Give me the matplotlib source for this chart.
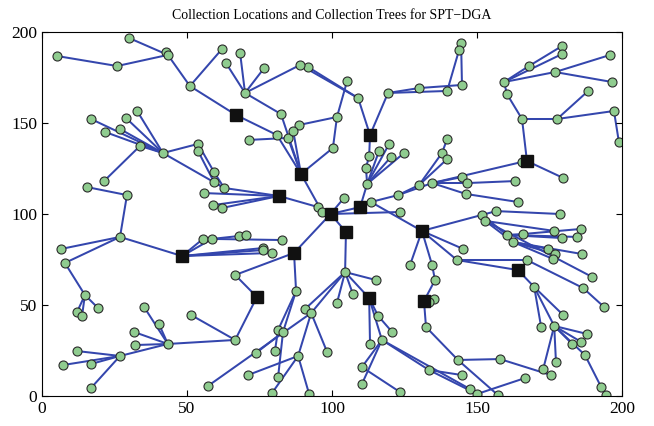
import matplotlib.pyplot as plt

# collection locations (black squares)
sinks = {
    "K1": (66.9, 154.4), "K2": (113.1, 143.4), "K3": (89.3, 122.0),
    "K4": (81.7, 109.9), "K5": (99.5, 100.0), "K6": (109.7, 103.8),
    "K7": (104.8, 90.1), "K8": (131.0, 90.7), "K9": (167.2, 129.1),
    "K10": (48.3, 76.9), "K11": (86.9, 78.6), "K12": (74.1, 54.4),
    "K13": (112.8, 53.8), "K14": (131.7, 52.2), "K15": (164.1, 69.2),
}

# sensor nodes
sensors = {
    "a1": (30.0, 196.7), "a2": (42.8, 189.0), "a3": (43.4, 187.4), "a4": (5.2, 186.8),
    "a5": (25.9, 181.3), "a6": (51.0, 170.3), "a7": (62.1, 190.7),
    "b1": (16.9, 152.2), "b2": (29.0, 152.7), "b3": (32.8, 156.6), "b4": (21.7, 145.1),
    "b5": (26.9, 146.7), "b6": (33.8, 137.4), "b7": (41.7, 133.5), "b8": (21.4, 118.1),
    "b9": (15.5, 114.8), "b10": (29.3, 110.4), "b11": (26.9, 87.4), "b12": (6.6, 80.8),
    "b13": (7.9, 73.1), "b14": (14.8, 55.5), "b15": (12.1, 46.2), "b16": (13.8, 44.0),
    "b17": (19.3, 48.4),
    "c1": (35.2, 48.9), "c2": (40.3, 39.6), "c3": (31.7, 35.2), "c4": (32.1, 28.0),
    "c5": (43.4, 28.6), "c6": (26.9, 22.0), "c7": (12.1, 24.7), "c8": (7.2, 17.0),
    "c9": (16.9, 17.6), "c10": (16.9, 4.4),
    "d1": (66.6, 66.5), "d2": (51.4, 44.5), "d4": (66.6, 30.8), "d5": (57.2, 5.5),
    "d6": (87.6, 57.7), "d7": (90.7, 47.8), "d8": (92.8, 45.6), "d9": (81.4, 36.3),
    "d10": (83.1, 35.2), "d11": (80.3, 24.7), "d12": (73.8, 23.6), "d13": (88.3, 22.0),
    "d14": (98.3, 24.2), "d15": (71.0, 11.5), "d16": (81.4, 10.4), "d17": (79.3, 1.6),
    "d18": (92.1, 1.1),
    "e1": (104.5, 68.1), "e2": (115.2, 63.7), "e3": (107.2, 56.0), "e4": (101.7, 51.1),
    "e5": (115.9, 44.0), "e6": (120.7, 35.2), "e7": (113.1, 28.6), "e8": (117.2, 30.8),
    "e9": (110.3, 15.9), "e10": (110.3, 6.6), "e11": (123.4, 2.2), "e12": (147.6, 3.8),
    "f1": (132.4, 37.9), "f2": (143.4, 19.8), "f3": (133.4, 14.3), "f4": (144.8, 11.5),
    "f5": (150.0, 1.1), "f6": (157.9, 20.3), "f7": (157.2, 0.5), "f8": (166.6, 9.9),
    "f9": (175.5, 11.5),
    "g1": (135.5, 63.7), "g2": (134.5, 72.0), "g3": (135.2, 53.3), "g4": (133.4, 51.6),
    "h1": (113.4, 106.6), "h2": (122.8, 110.4), "h3": (130.0, 115.9), "h4": (134.5, 117.0),
    "h5": (137.9, 133.5), "h6": (139.7, 141.2), "h7": (139.7, 130.2), "h8": (144.8, 120.3),
    "h9": (146.6, 117.0), "h10": (146.2, 111.0), "h11": (165.5, 128.6), "h12": (163.1, 118.1),
    "h13": (164.1, 106.6), "h14": (123.4, 101.1), "h15": (145.2, 80.8), "h16": (143.1, 74.7),
    "h17": (126.9, 72.0),
    "i1": (151.7, 99.5), "i2": (152.8, 96.2), "i3": (156.6, 101.6), "i4": (178.6, 100.0),
    "i5": (176.6, 90.7), "i6": (185.9, 91.8), "i7": (160.3, 88.5), "i8": (165.9, 89.0),
    "i9": (162.4, 84.6), "i10": (179.3, 86.8), "i11": (184.5, 87.4), "i12": (174.5, 80.8),
    "i13": (176.9, 78.0), "i14": (176.2, 75.3), "i15": (186.2, 78.0), "i16": (167.2, 74.7),
    "i17": (189.7, 65.4), "j1": (179.7, 119.8),
    "k1": (169.7, 59.9), "k2": (179.7, 44.5), "k3": (172.1, 37.9), "k4": (176.6, 38.5),
    "k5": (187.9, 34.1), "k6": (185.9, 29.7), "k7": (182.8, 28.6), "k8": (187.2, 22.5),
    "k9": (192.8, 4.9), "k10": (194.5, 0.5), "k11": (177.2, 18.7), "k12": (172.8, 14.8),
    "k13": (186.6, 59.3), "k14": (193.8, 48.9),
    "m1": (165.5, 152.2), "m2": (160.3, 165.9), "m3": (159.3, 172.5), "m4": (167.9, 181.3),
    "m5": (179.3, 192.3), "m6": (179.3, 187.9), "m7": (176.9, 178.0), "m8": (195.9, 187.4),
    "m9": (196.6, 172.5), "m10": (177.6, 152.2), "m11": (188.3, 167.6), "m12": (197.2, 156.6),
    "m13": (198.9, 139.6),
    "n1": (119.3, 166.5), "n2": (130.0, 169.2), "n3": (144.8, 170.9), "n4": (144.5, 194.0),
    "n5": (139.7, 167.6), "n6": (143.8, 190.1), "n7": (109.0, 163.7), "n8": (91.7, 180.8),
    "n9": (89.0, 181.9), "n10": (105.2, 173.1), "n11": (101.7, 153.3), "n12": (100.3, 136.3),
    "n13": (88.6, 148.9),
    "p1": (70.0, 166.5), "p2": (68.3, 188.5), "p3": (63.4, 183.0), "p4": (76.6, 180.2),
    "p5": (82.4, 154.9), "p6": (81.0, 143.4), "p7": (84.8, 141.8), "p8": (86.6, 145.6),
    "p9": (71.4, 140.7),
    "q1": (53.8, 138.5), "q2": (53.8, 134.6), "q3": (59.3, 123.1), "q4": (59.3, 117.6),
    "q5": (62.8, 114.3), "q6": (55.9, 111.5), "q7": (59.0, 104.9), "q8": (62.1, 103.3),
    "r1": (55.5, 86.3), "r2": (58.6, 86.3), "r3": (67.9, 87.9), "r4": (70.3, 88.5),
    "r5": (82.8, 85.7), "r6": (76.2, 81.3), "r7": (76.2, 80.2), "r8": (79.3, 78.6),
    "s1": (95.2, 103.8), "s2": (96.6, 101.1), "s3": (104.1, 108.8),
    "t1": (112.1, 116.5), "t2": (111.7, 125.3), "t3": (112.8, 131.9), "t4": (116.2, 134.6),
    "t5": (120.3, 131.3), "t6": (124.8, 133.5), "t7": (119.7, 138.5),
}

# tree links (child, parent)
links = [
    ("a1", "a3"), ("a2", "a3"), ("a4", "a5"), ("a5", "a3"), ("a3", "a6"), ("a7", "a6"),
    ("a6", "K1"),
    ("b1", "b7"), ("b2", "b7"), ("b3", "b7"), ("b4", "b7"), ("b5", "b7"), ("b6", "b7"),
    ("b8", "b6"), ("b9", "b10"), ("b10", "b11"), ("b11", "K10"), ("b12", "b11"),
    ("b13", "b11"), ("b14", "b13"), ("b15", "b14"), ("b16", "b14"), ("b17", "b14"),
    ("c1", "c5"), ("c2", "c5"), ("c3", "c5"), ("c4", "c5"), ("c6", "c5"), ("c7", "c6"),
    ("c8", "c6"), ("c9", "c6"), ("c10", "c6"), ("c5", "d4"),
    ("K12", "d1"), ("d1", "K11"), ("d4", "K12"), ("d2", "d4"),
    ("d6", "K11"), ("d9", "d6"), ("d10", "d6"), ("d16", "d10"), ("d11", "d9"),
    ("d12", "d10"), ("d7", "e1"), ("d8", "e1"), ("d5", "d8"), ("d13", "d8"),
    ("d14", "d8"), ("d15", "d13"), ("d17", "d13"), ("d18", "d13"),
    ("e1", "K7"), ("K13", "e1"), ("e2", "e1"), ("e3", "e1"), ("e4", "e1"),
    ("e5", "K13"), ("e6", "e5"), ("e7", "K13"), ("e8", "K13"), ("e9", "e8"),
    ("e10", "e8"), ("e11", "e9"), ("e12", "e8"),
    ("f1", "K14"), ("f2", "f1"), ("f6", "f2"), ("f9", "f6"), ("f7", "f2"),
    ("f3", "e8"), ("f4", "f3"), ("f5", "f3"), ("f8", "f5"),
    ("g2", "K8"), ("g1", "g2"), ("K14", "g1"), ("g3", "K14"), ("g4", "K14"),
    ("h1", "K6"), ("K8", "h1"), ("h2", "h1"), ("h3", "h2"), ("h4", "h2"),
    ("h5", "h3"), ("h6", "h5"), ("h7", "h3"), ("h8", "h4"), ("h9", "h4"),
    ("h10", "h4"), ("h11", "h4"), ("K9", "h11"), ("h12", "h9"), ("h13", "h10"),
    ("h14", "K5"), ("h15", "K8"), ("h16", "K8"), ("h17", "K8"), ("K15", "h16"),
    ("i16", "h16"),
    ("i1", "K8"), ("i3", "i1"), ("i4", "i3"), ("i2", "i1"), ("i5", "i2"),
    ("i7", "i1"), ("i8", "i7"), ("i6", "i8"), ("i10", "i7"), ("i11", "i7"),
    ("i9", "i2"), ("i12", "i9"), ("i13", "i9"), ("i14", "i9"), ("i15", "i9"),
    ("i17", "i2"), ("j1", "K9"),
    ("k1", "K15"), ("k2", "k1"), ("k3", "k1"), ("k4", "k1"), ("k5", "k4"),
    ("k6", "k4"), ("k7", "k4"), ("k8", "k4"), ("k9", "k8"), ("k10", "k9"),
    ("k11", "k4"), ("k12", "k4"), ("k13", "i16"), ("k14", "k13"),
    ("m1", "K9"), ("m2", "m1"), ("m3", "m2"), ("m4", "m3"), ("m5", "m4"),
    ("m6", "m3"), ("m7", "m3"), ("m8", "m7"), ("m9", "m7"), ("m10", "m1"),
    ("m11", "m10"), ("m12", "m10"), ("m13", "m12"),
    ("n1", "K2"), ("n2", "n1"), ("n3", "n2"), ("n4", "n3"), ("n5", "n1"),
    ("n6", "n5"), ("n7", "K2"), ("n8", "n7"), ("n9", "n7"), ("n10", "n11"),
    ("n11", "n12"), ("n12", "K3"), ("n13", "n11"),
    ("p1", "n9"), ("p2", "p1"), ("p3", "p1"), ("p4", "p1"), ("p5", "K3"),
    ("p1", "p5"), ("K1", "p6"), ("p6", "K3"), ("p7", "K3"), ("p8", "K3"),
    ("p9", "p7"),
    ("q1", "b7"), ("q3", "q1"), ("q2", "q4"), ("q3", "q5"), ("q4", "q5"),
    ("b7", "q5"), ("q5", "K4"), ("q6", "K4"), ("q7", "K4"), ("q8", "K4"),
    ("r1", "K10"), ("r2", "K10"), ("r5", "r2"), ("r3", "r2"), ("r4", "r3"),
    ("r6", "K10"), ("r7", "K10"), ("r8", "K10"),
    ("K4", "s1"), ("s1", "K5"), ("K3", "s2"), ("s2", "K5"), ("s3", "K5"),
    ("K6", "K5"), ("K7", "K5"), ("K11", "K5"),
    ("t1", "K6"), ("t2", "t1"), ("t3", "t2"), ("K2", "t3"), ("t4", "t1"),
    ("t5", "t1"), ("t6", "t1"), ("t7", "t1"),
]

pos = {**sensors, **sinks}

plt.rcParams['font.family'] = ['Liberation Serif', 'DejaVu Serif']

fig = plt.figure(figsize=(6.54, 4.26), dpi=100)
ax = fig.add_axes([0.0642, 0.0704, 0.887, 0.8545])

for u, v in links:
    x0, y0 = pos[u]
    x1, y1 = pos[v]
    ax.plot([x0, x1], [y0, y1], color='#3446ad', lw=1.45, zorder=1,
            solid_capstyle='round')

ax.plot([p[0] for p in sensors.values()], [p[1] for p in sensors.values()],
        'o', ms=6.5, mfc='#8fcc8f', mec='#2b2b2b', mew=0.8, ls='none', zorder=2)
ax.plot([p[0] for p in sinks.values()], [p[1] for p in sinks.values()],
        's', ms=8, mfc='#111111', mec='#111111', ls='none', zorder=3)

ax.set_xlim(0, 200)
ax.set_ylim(0, 200)
ax.set_xticks([0, 50, 100, 150, 200])
ax.set_yticks([0, 50, 100, 150, 200])
ax.tick_params(direction='in', top=True, right=True, labelsize=12.5, length=4)
ax.set_title('Collection Locations and Collection Trees for SPT\u2212DGA', fontsize=10, pad=9)

fig.savefig('out.png', dpi=100)
